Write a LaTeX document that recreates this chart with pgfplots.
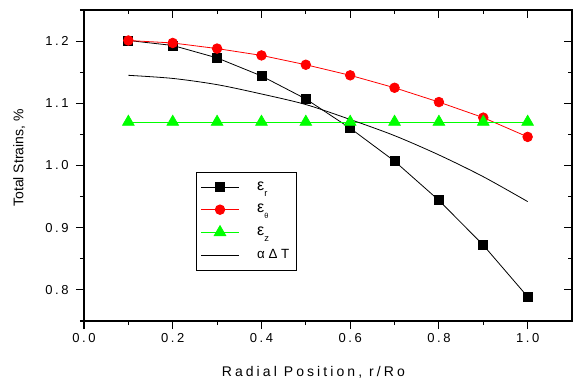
\documentclass[border=0pt]{standalone}
\usepackage{fontspec}
\setmainfont{Liberation Sans}
\newfontfamily\lsfont[LetterSpace=20]{Liberation Sans}
\newfontfamily\lxfont[LetterSpace=22]{Liberation Sans}
\usepackage{pgfplots}
\pgfplotsset{compat=1.18}
\pgfplotstableread{
x er eth ez adt
0.1 1.201 1.201 1.070 1.145
0.2 1.193 1.197 1.070 1.140
0.3 1.173 1.188 1.070 1.130
0.4 1.144 1.177 1.070 1.115
0.5 1.107 1.162 1.070 1.098
0.6 1.060 1.145 1.070 1.074
0.7 1.007 1.125 1.070 1.048
0.8 0.944 1.102 1.070 1.017
0.9 0.872 1.077 1.070 0.982
1.0 0.789 1.046 1.070 0.942
}\datatable
\begin{document}
\begin{tikzpicture}
\pgfplotsset{
  common/.style={
    scale only axis, width=366pt, height=233.25pt,
    xmin=0, xmax=1.1, ymin=0.75, ymax=1.25,
    xtick={0,0.2,0.4,0.6,0.8,1.0},
    minor xtick={0.1,0.3,0.5,0.7,0.9},
    ytick={0.8,0.9,1.0,1.1,1.2},
    minor ytick={0.75,0.85,0.95,1.05,1.15,1.25},
    axis line style={line width=1pt},
    tick style={black, line width=0.8pt},
    major tick length=6pt, minor tick length=3pt,
  }
}
\begin{axis}[common, name=main,
  tick align=outside, xtick pos=left, ytick pos=left,
  xticklabels={0.0,0.2,0.4,0.6,0.8,1.0},
  yticklabels={0.8,0.9,1.0,1.1,1.2},
  xticklabel style={font=\lsfont\fontsize{9.75}{10}\selectfont},
  yticklabel style={font=\lsfont\fontsize{9.75}{10}\selectfont, xshift=-2pt},
  xlabel={\lxfont Radial Position, r/Ro},
  ylabel={Total Strains, \%},
  xlabel style={font=\fontsize{10.5}{12}\selectfont, at={(axis description cs:0.47,-0.164)}, anchor=center},
  ylabel style={font=\fontsize{10.5}{12}\selectfont, at={(axis description cs:-0.133,0.524)}, anchor=center},
  legend style={at={(rel axis cs:0.23,0.479)}, anchor=north west, draw=black, line width=0.6pt,
    font=\fontsize{11}{12}\selectfont, row sep=5pt, inner xsep=3pt, inner ysep=5pt},
  legend cell align=left,
  legend image code/.code={\draw[mark repeat=2,mark phase=2] plot coordinates {(0cm,0cm) (0.5cm,0cm) (1cm,0cm)};
    \path (1.4cm,0);},
]
\addplot[black, line width=0.6pt, mark=square*, mark size=3.4pt, mark options={fill=black}] table[x=x,y=er] {\datatable};
\addlegendentry{\fontsize{12}{14}\selectfont ε\raisebox{-0.7ex}{\fontsize{7}{8}\selectfont r}}
\addplot[red, line width=0.6pt, mark=*, mark size=3.6pt, mark options={fill=red}] table[x=x,y=eth] {\datatable};
\addlegendentry{\fontsize{12}{14}\selectfont ε\raisebox{-0.7ex}{\fontsize{5.5}{6}\selectfont θ}}
\addplot[green, line width=0.6pt, mark=triangle*, mark size=5pt, mark options={fill=green}] table[x=x,y=ez] {\datatable};
\addlegendentry{\fontsize{12}{14}\selectfont ε\raisebox{-0.7ex}{\fontsize{7}{8}\selectfont z}}
\addplot[black, line width=0.6pt, smooth, mark=none] table[x=x,y=adt] {\datatable};
\addlegendentry{\fontsize{10}{12}\selectfont α\;Δ\;T}
\end{axis}
\begin{axis}[common,
  tick align=inside, xtick pos=right, ytick pos=right,
  xticklabels={}, yticklabels={},
]
\end{axis}
\pgfresetboundingbox
\path (main.south west) ++(-63pt,-46.5pt) rectangle ++(429.75pt,287.25pt);
\end{tikzpicture}
\end{document}
